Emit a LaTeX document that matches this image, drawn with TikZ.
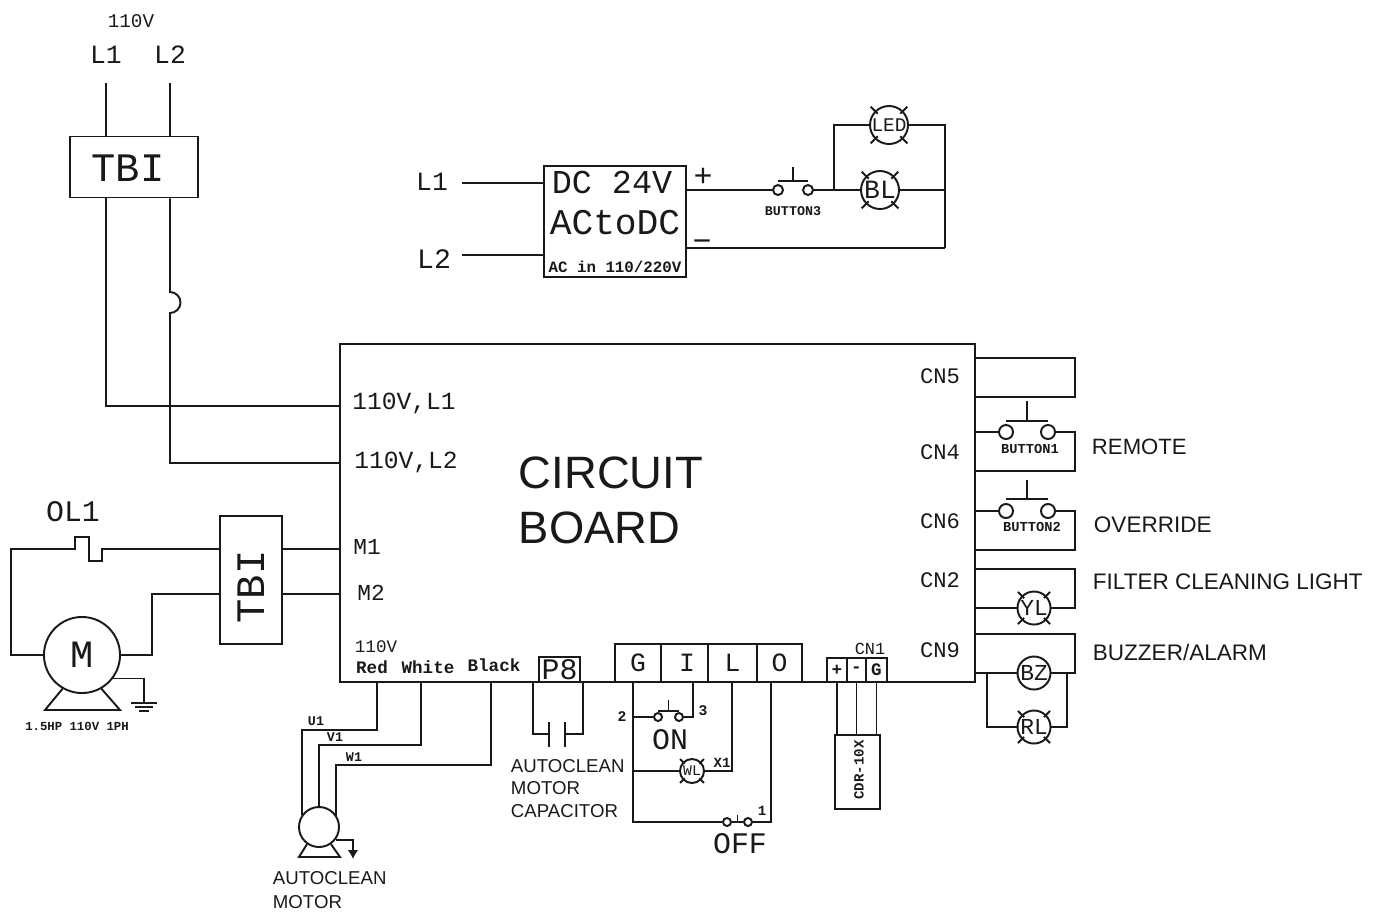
\documentclass[tikz,border=0pt]{standalone}
\usepackage{fontspec}
\setmainfont{Liberation Sans}
\setmonofont{Liberation Mono}
\usetikzlibrary{positioning}
\usetikzlibrary{calc}
\usetikzlibrary{arrows.meta}

\begin{document}
\begin{tikzpicture}[x=0.01cm, y=-0.01cm, line width=0.55pt, color=black!90,
        box/.style={draw, rectangle, inner sep=0pt},
        cad/.style={font=\ttfamily\fontsize{#1}{#1}\selectfont, inner sep=0pt},
        boldcad/.style={font=\ttfamily\bfseries\fontsize{#1}{#1}\selectfont, inner sep=0pt},
        txt/.style={font=\fontsize{#1}{#1}\selectfont, inner sep=0pt, anchor=west},
        lamp/.style={circle, draw, inner sep=0pt, minimum size=#1},
        term/.style={circle, draw, inner sep=0pt, minimum size=#1}]
        \useasboundingbox (0, 0) rectangle (1385, 914);

        \node[cad=5.5] (supply) at (131, 21) {110V};
        \node[cad=7.5] (supplyl1) at (106, 55) {L1};
        \node[cad=7.5] (supplyl2) at (170, 55) {L2};
        \coordinate (l1top) at (106, 83);
        \coordinate (l2top) at (170, 83);
        \node[box, minimum width=1.28cm, minimum height=0.61cm] (tbitop) at (134, 167) {};
        \node[cad=11.5] (tbitoptext) at (128, 168) {TBI};

        \node[box, minimum width=6.35cm, minimum height=3.38cm] (board) at (657.5, 513) {};
        \node[cad=7] (boardl1) at (404, 403) {110V,L1};
        \node[cad=7] (boardl2) at (406, 462) {110V,L2};
        \node[txt=12.9] (circuit) at (518, 473) {CIRCUIT};
        \node[txt=12.9] (boardname) [below=0.55cm of circuit.west, anchor=west] {BOARD};
        \node[cad=6.5] (m1) at (367, 547) {M1};
        \node[cad=6.5] (m2) at (371, 593) {M2};
        \node[cad=5] (volt) at (376, 647) {110V};
        \node[boldcad=5] (red) at (372, 667) {Red};
        \node[boldcad=5] (white) at (428, 667) {White};
        \node[boldcad=5] (black) at (494, 665) {Black};

        \coordinate (bl1) at (340, 406);
        \coordinate (bl2) at (340, 463);
        \coordinate (bm1) at (340, 549);
        \coordinate (bm2) at (340, 594);
        \draw (l1top) -- (tbitop.north -| l1top);
        \draw (l2top) -- (tbitop.north -| l2top);
        \draw (tbitop.south -| l1top) |- (bl1);
        \draw (tbitop.south -| l2top) -- (170, 292) arc[start angle=-90, end angle=90, radius=10.5] |- (bl2);

        % power supply
        \node[box, minimum width=1.42cm, minimum height=1.11cm] (psu) at (615, 221.5) {};
        \node[cad=9.5] (psudc) at (612, 182) {DC 24V};
        \node[cad=10.3] (psuac) at (615, 223) {ACtoDC};
        \node[boldcad=4.5] (psuin) at (615, 267) {AC in 110/220V};
        \node[cad=7.5] (psul1) at (432, 182) {L1};
        \node[cad=8] (psul2) at (434, 259) {L2};
        \node[cad=9] (plus) at (703, 177) {+};
        \node[cad=9] (minus) at (702, 246) {−};
        \node[term=0.1cm] (b3-a) at (778, 190) {};
        \node[term=0.1cm] (b3-c) at (808, 190) {};
        \node[boldcad=3.8] (b3name) at (793, 211) {BUTTON3};
        \node[lamp=0.38cm, cad=5.5] (led) at (889, 125) {LED};
        \node[lamp=0.38cm, cad=7.5] (bl) at (880, 190) {BL};
        \coordinate (psuin1) at (462, 183);
        \coordinate (psuin2) at (462, 255);
        \coordinate (jled) at (834, 190);
        \coordinate (jret) at (945, 190);
        \coordinate (retend) at (945, 248);

        \draw (psuin1) -- (psu.west |- psuin1);
        \draw (psuin2) -- (psu.west |- psuin2);
        \draw (psu.east |- b3-a) -- (b3-a.west);
        \draw (b3-c.east) -- (bl.west);
        \draw (jled) |- (led.west);
        \draw (led.east) -| (retend);
        \draw (bl.east) -- (jret);
        \draw (retend) -- (psu.east |- retend);

        % overload and main motor
        \node[cad=8.5] (ol) at (73, 512) {OL1};
        \node[box, minimum width=0.62cm, minimum height=1.28cm] (tbimotor) at (251, 580) {};
        \node[cad=11.5, rotate=90] (tbitext) at (251, 587) {TBI};
        \node[circle, draw, inner sep=0pt, minimum size=0.76cm, cad=11] (motor) at (82, 655) {M};
        \node[boldcad=3.5] (motorname) at (77, 726) {1.5HP 110V 1PH};
        \coordinate (gnd) at (144, 703);
        \coordinate (footl) at (45, 710);
        \coordinate (footr) at (120, 710);

        \draw (motor.west) -| (11, 549) -- (75, 549) -- (75, 537) -- (89, 537) -- (89, 561) -- (102, 561) -- (102, 549) -- (tbimotor.west |- bm1);
        \draw (motor.east) -| (152, 594) -- (tbimotor.west |- bm2);
        \draw (tbimotor.east |- bm1) -- (bm1);
        \draw (tbimotor.east |- bm2) -- (bm2);
        \draw (motor.-120) -- (footl) -- (footr) -- (motor.-60);
        \draw (motor.-37) -| (gnd);
        \foreach \w/\d in {13/0, 9/4, 5/8}
            \draw ($(gnd)+(-\w, \d)$) -- ($(gnd)+(\w, \d)$);

        % autoclean motor
        \node[circle, draw, inner sep=0pt, minimum size=0.4cm] (acmotor) at (319, 827) {};
        \node[txt=5.3] (acname) at (272, 878) {AUTOCLEAN};
        \node[txt=5.3] (acname2) at (272, 902) {MOTOR};
        \node[boldcad=3.8] (u1) at (316, 721) {U1};
        \node[boldcad=3.8] (v1) at (335, 737) {V1};
        \node[boldcad=3.8] (w1) at (354, 757) {W1};
        \coordinate (redout) at (377, 682);
        \coordinate (whiteout) at (421, 682);
        \coordinate (blackout) at (491, 682);
        \coordinate (acgnd) at (353, 859);

        \draw (redout) |- (302, 730) -- (302, 815);
        \draw (whiteout) |- (319, 745) -- (acmotor.north);
        \draw (blackout) |- (336, 765) -- (336, 816);
        \draw (acmotor.-125) -- (299, 857) -- (340, 857) -- (acmotor.-55);
        \draw[-{Latex[length=2.5pt, width=3pt]}] (acmotor.-38) -| (acgnd);

        % capacitor
        \node[box, cad=8.5, minimum width=0.41cm, minimum height=0.25cm] (p8) at (559.5, 669.5) {P8};
        \coordinate (capl) at (549, 734);
        \coordinate (capr) at (565, 734);
        \node[txt=5.3] (capname) at (510, 766) {AUTOCLEAN};
        \node[txt=5.3] (capname2) at (510, 788) {MOTOR};
        \node[txt=5.3] (capname3) at (510, 811) {CAPACITOR};
        \draw (533, 682) |- (capl);
        \draw (583, 682) |- (capr);
        \draw ($(capl)+(0, -12)$) -- ($(capl)+(0, 13)$);
        \draw ($(capr)+(0, -12)$) -- ($(capr)+(0, 13)$);

        % control terminals
        \node[box, cad=7.5, minimum width=0.46cm, minimum height=0.38cm] (g) at (638, 663) {G};
        \node[box, minimum width=0.47cm, minimum height=0.38cm] (i) at (684.5, 663) {};
        \node[cad=7.5] (itext) at (687, 663) {I};
        \node[box, cad=7.5, minimum width=0.49cm, minimum height=0.38cm] (l) at (732.5, 663) {L};
        \node[box, cad=7.5, minimum width=0.45cm, minimum height=0.38cm] (o) at (779.5, 663) {O};
        \node[term=0.08cm] (on-a) at (658, 717) {};
        \node[term=0.08cm] (on-c) at (679, 717) {};
        \node[term=0.08cm] (off-a) at (727, 822) {};
        \node[term=0.08cm] (off-c) at (748, 822) {};
        \node[lamp=0.24cm, cad=4.2] (wl) at (692, 771) {WL};
        \node[boldcad=4.2] (n2) at (622, 717) {2};
        \node[boldcad=4.2] (n3) at (703, 711) {3};
        \node[boldcad=4] (x1) at (722, 763) {X1};
        \node[boldcad=4] (n1) at (762, 811) {1};
        \node[cad=8.5] (on) at (670, 740) {ON};
        \node[cad=8.5] (off) at (740, 844) {OFF};
        \coordinate (gin) at (633, 682);
        \coordinate (gon) at (633, 717);
        \coordinate (gwl) at (633, 771);
        \coordinate (goff) at (633, 822);
        \coordinate (iin) at (693, 682);
        \coordinate (lin) at (732, 682);
        \coordinate (oin) at (771, 682);

        \draw (gin) -- (goff) -- (off-a.west);
        \draw (off-a.east) -- (off-c.west);
        \draw ($(off-a)!.5!(off-c)$) -- ++(0, -7);
        \draw (off-c.east) -| (oin);
        \draw (gon) -- (on-a.west);
        \draw (on-c.east) -| (iin);
        \draw (gwl) -- (wl.west);
        \draw (wl.east) -| (lin);

        % CN1 and CDR
        \node[box, boldcad=5, minimum width=0.2cm, minimum height=0.24cm] (cnplus) at (837, 670) {+};
        \node[box, boldcad=5, minimum width=0.19cm, minimum height=0.24cm] (cnminus) at (856.5, 670) {-};
        \node[box, boldcad=5, minimum width=0.21cm, minimum height=0.24cm] (cng) at (876.5, 670) {G};
        \node[cad=4.8] (cn1) at (870, 649) {CN1};
        \node[box, minimum width=0.45cm, minimum height=0.74cm] (cdr) at (857.5, 772) {};
        \node[boldcad=4, rotate=90] (cdrtext) at (859, 770) {CDR-10X};
        \draw (cnplus.south) -- (cnplus.south |- cdr.north);
        \draw (cnminus.south) -- (cnminus.south |- cdr.north);
        \draw (cng.south) -- (cng.south |- cdr.north);

        % right hand connectors
        \node[cad=6.3] (cn5) at (940, 376) {CN5};
        \node[cad=6.3] (cn4) at (940, 452) {CN4};
        \node[cad=6.3] (cn6) at (940, 521) {CN6};
        \node[cad=6.3] (cn2) at (940, 580) {CN2};
        \node[cad=6.3] (cn9) at (940, 650) {CN9};
        \node[term=0.14cm] (b1-a) at (1006, 432) {};
        \node[term=0.14cm] (b1-c) at (1048, 432) {};
        \node[term=0.14cm] (b2-a) at (1006, 511) {};
        \node[term=0.14cm] (b2-c) at (1048, 511) {};
        \node[boldcad=3.9] (b1name) at (1030, 449) {BUTTON1};
        \node[boldcad=3.9] (b2name) at (1032, 527) {BUTTON2};
        \node[lamp=0.33cm, cad=6.5] (yl) at (1034, 608) {YL};
        \node[lamp=0.33cm, cad=6.5] (bz) at (1034, 673) {BZ};
        \node[lamp=0.33cm, cad=6.5] (rl) at (1034, 727) {RL};
        \node[txt=6.3] (remote) at (1091, 447) {REMOTE};
        \node[txt=6.4] (override) at (1093, 525) {OVERRIDE};
        \node[txt=6.4] (filter) at (1092, 582) {FILTER CLEANING LIGHT};
        \node[txt=6.4] (buzzer) at (1092, 652) {BUZZER/ALARM};

        \draw (board.east |- 0, 358) -| (1075, 397) -- (board.east |- 0, 397);
        \draw (board.east |- b1-a) -- (b1-a.west);
        \draw (b1-c.east) -| (1075, 471) -- (board.east |- 0, 471);
        \draw (board.east |- b2-a) -- (b2-a.west);
        \draw (b2-c.east) -| (1075, 550) -- (board.east |- 0, 550);
        \draw (board.east |- 0, 569) -| (1075, 608) -- (yl.east);
        \draw (yl.west) -- (board.east |- yl);
        \draw (board.east |- 0, 634) -| (1075, 673) -- (bz.east);
        \draw (bz.west) -- (board.east |- bz);
        \draw (987, 673) |- (rl.west);
        \draw (rl.east) -| (1067, 673);

        \foreach \b/\u/\s in {b1/11/20, b2/12/19, b3/9/14, on/6/11} {
            \draw ($(\b-a)+(0, -\u)$) -- ($(\b-c)+(0, -\u)$);
            \draw ($(\b-a)!.5!(\b-c)+(0, -\u)$) -- ++(0, -\s);
        }
        \foreach \n in {led, bl, wl, yl, rl}
            \foreach \a in {45, 135, 225, 315}
                \draw ($(\n)!.8!(\n.\a)$) -- ($(\n)!1.3!(\n.\a)$);
    \end{tikzpicture}
\end{document}
